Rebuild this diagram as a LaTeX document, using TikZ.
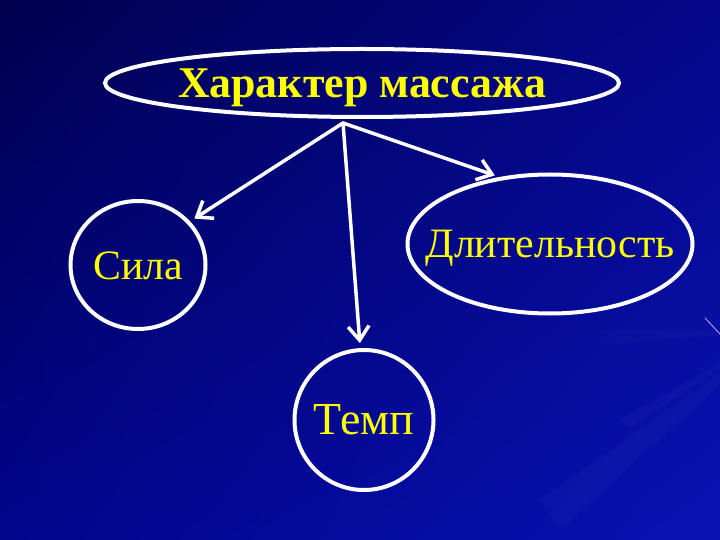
\documentclass[tikz,border=0pt]{standalone}
\usepackage{fontspec}
\setmainfont{Liberation Serif}
\usetikzlibrary{shapes.geometric,arrows.meta,shadings}
\definecolor{ylw}{RGB}{255,255,0}
\definecolor{bgTL}{RGB}{0,0,78}
\definecolor{bgTR}{RGB}{4,8,138}
\definecolor{bgBL}{RGB}{0,5,140}
\definecolor{bgBR}{RGB}{10,18,178}
\definecolor{streak}{RGB}{200,170,255}
\tikzset{
  oval/.style={ellipse, draw=white, line width=4bp, inner sep=0pt, text=ylw,
    text depth=0pt},
  lbl/.style={font=\fontsize{42}{48}\selectfont, text height=28bp},
  ttl/.style={font=\bfseries\fontsize{44}{50}\selectfont, text height=29bp},
  arr/.style={draw=white, line width=3.5bp, line cap=round,
    -{Straight Barb[length=14bp,width=21bp]}, shorten >=5bp}
}
\begin{document}
\begin{tikzpicture}[x=1bp,y=-1bp]
\useasboundingbox (0,0) rectangle (720,540);
% background
\shade[upper left=bgTL, upper right=bgTR, lower left=bgBL, lower right=bgBR]
  (0,0) rectangle (720,540);
\fill[white, opacity=0.025] (780,330) -- (540,500) -- (560,530) -- cycle;
\fill[white, opacity=0.025] (780,330) -- (620,420) -- (630,428) -- cycle;
\fill[white, opacity=0.02] (780,330) -- (600,330) -- (600,345) -- cycle;
\fill[white, opacity=0.02] (760,-20) -- (670,0) -- (700,0) -- cycle;
\draw[streak, line width=0.8bp] (705,318) -- (720,334);
% nodes
\node[oval, ttl, minimum width=514bp, minimum height=68bp] (top) at (362,83)
  {\makebox[0pt]{Характер массажа}};
\node[oval, lbl, minimum width=135bp, minimum height=128bp] (sila) at (138,265)
  {\makebox[0pt]{Сила}};
\node[oval, lbl, minimum width=285bp, minimum height=139bp] (dlit) at (550,244)
  {\makebox[0pt]{Длительность}};
\node[oval, lbl, minimum width=139bp, minimum height=140bp] (temp) at (364,420)
  {\makebox[0pt]{\fontsize{46}{50}\selectfont Темп}};
\coordinate (apex) at (343,123);
% connectors
\draw[arr] (apex) -- (sila.40);
\draw[arr] (apex) -- (dlit.127);
\draw[arr] (apex) -- (temp.93);
\end{tikzpicture}
\end{document}
